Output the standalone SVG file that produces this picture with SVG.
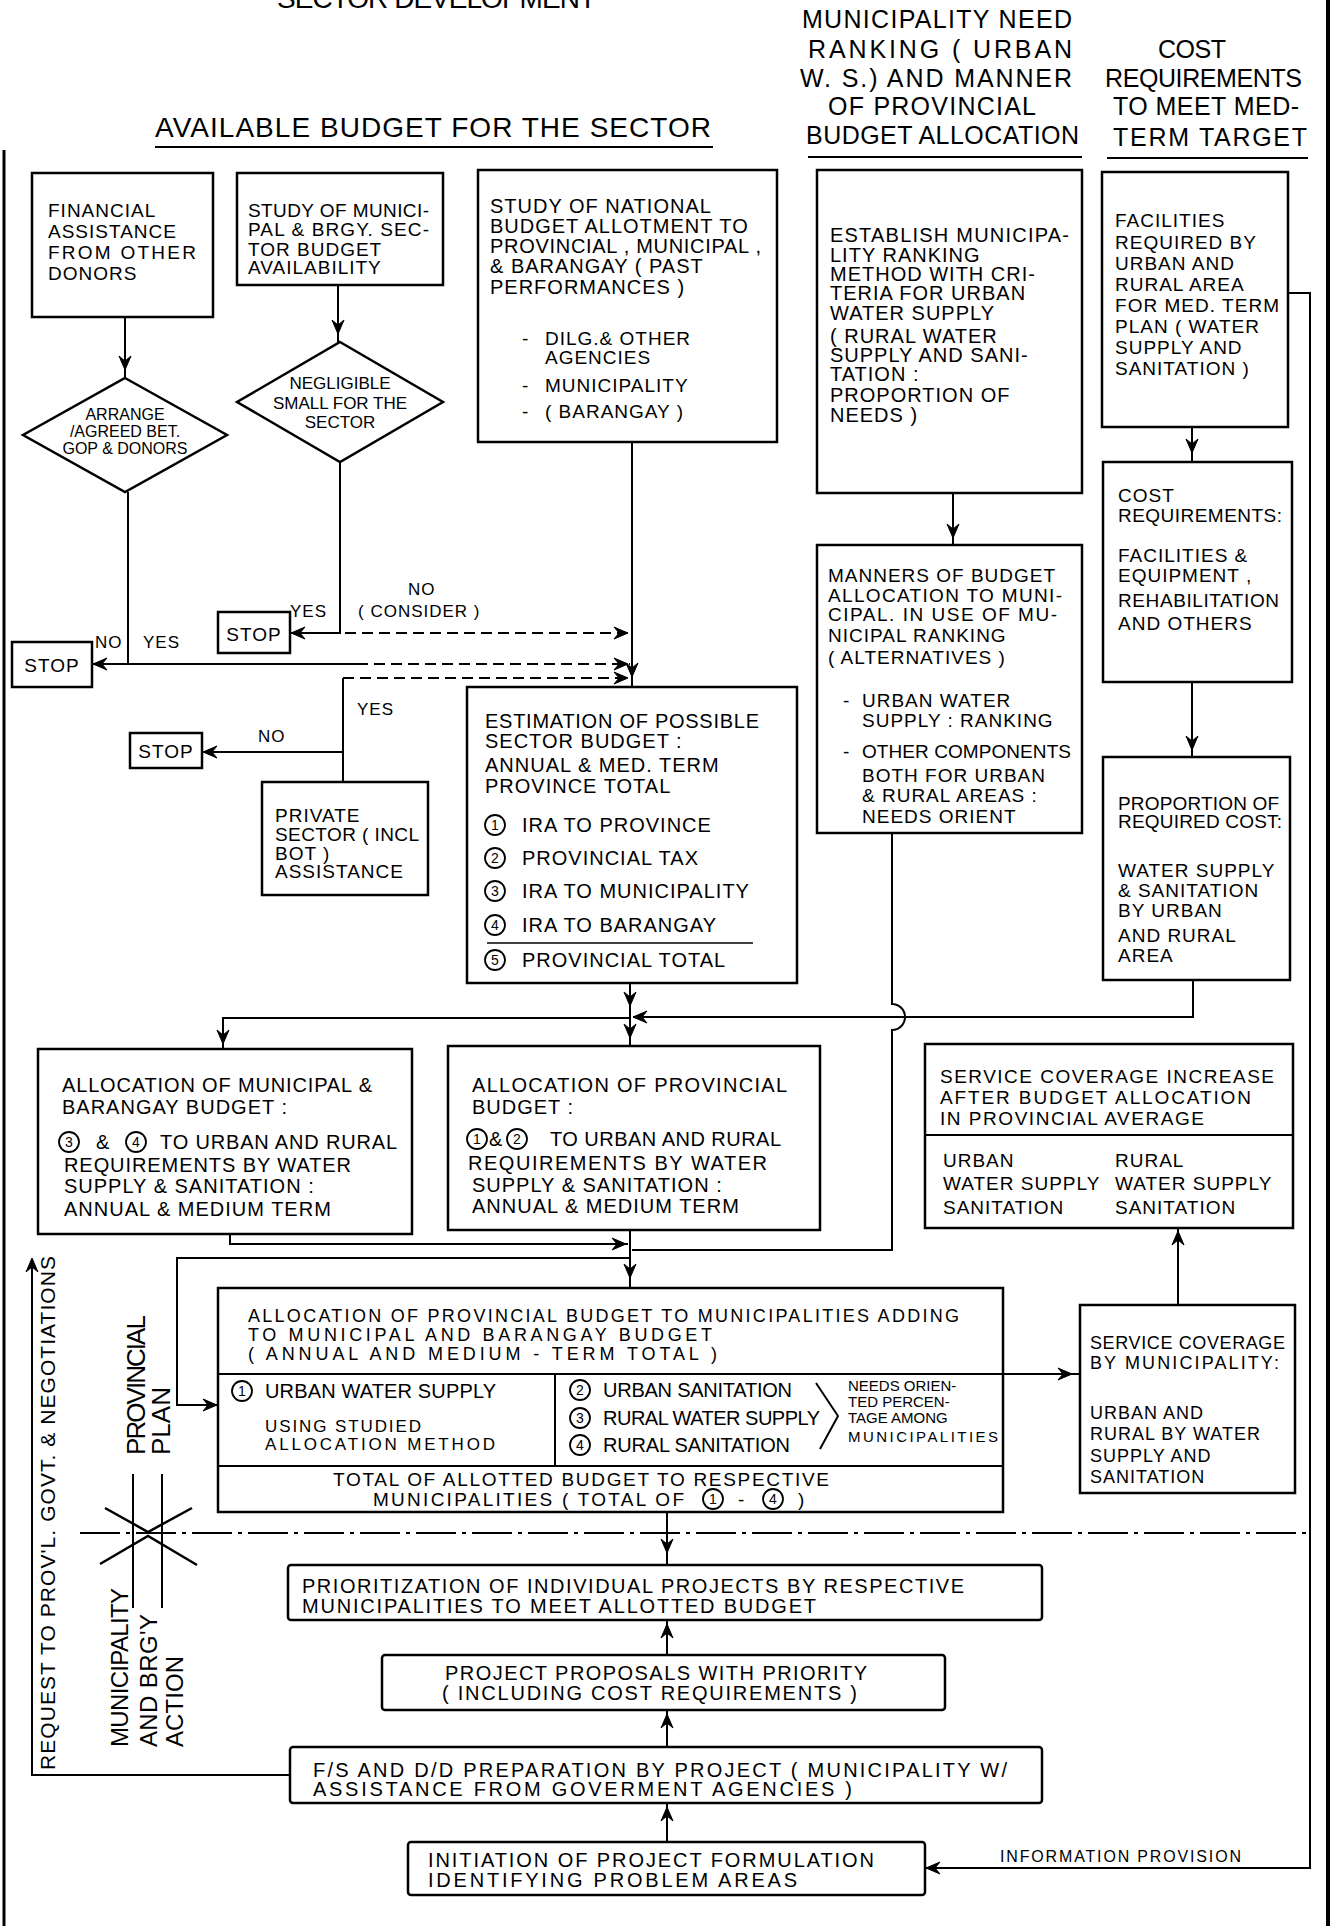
<svg xmlns="http://www.w3.org/2000/svg" xmlns:xlink="http://www.w3.org/1999/xlink" width="1332" height="1926" viewBox="0 0 1332 1926">
<style>
.b{fill:#fff;stroke:#000;stroke-width:2.5}
.t{font-family:"Liberation Sans",Arial,sans-serif;font-size:20px;fill:#000;letter-spacing:1px}
.s{font-size:19px}
.m{font-size:17px}
.h{font-size:25px}
.hh{font-size:28px}
.z{letter-spacing:0}
.dg{font-family:"Liberation Sans",Arial,sans-serif;font-size:14px;text-anchor:middle;letter-spacing:0;fill:#000}
.cn{fill:none;stroke:#000;stroke-width:1.8}
.c{fill:none;stroke:#000;stroke-width:2}
.d{stroke-dasharray:11 6}
.dd{stroke-dasharray:40 6 4 6}
</style>
<defs>
<path id="ah" d="M0 0 L-14 -6 L-9 0 L-14 6 Z" fill="#000" stroke="#000" stroke-width="1"/>
</defs>
<rect width="1332" height="1926" fill="#fff"/>
<g id="borders" class="c">
<path d="M4 150 V1926" style="stroke-width:3"/>
<path d="M1328 0 V1926" style="stroke-width:4"/>
</g>
<g id="headers" class="t">
<text class="hh" x="277" y="8" textLength="320">SECTOR  DEVELOPMENT</text>
<text class="hh" x="155" y="137" textLength="557">AVAILABLE  BUDGET  FOR  THE  SECTOR</text>
<path class="c" d="M155 147 H713"/>
<text class="h" x="802" y="28" textLength="271">MUNICIPALITY  NEED</text>
<text class="h" x="808" y="58" textLength="265">RANKING  ( URBAN</text>
<text class="h" x="800" y="87" textLength="273">W. S.) AND MANNER</text>
<text class="h" x="828" y="115" textLength="209">OF  PROVINCIAL</text>
<text class="h" x="806" y="144" textLength="274">BUDGET ALLOCATION</text>
<path class="c" d="M808 157 H1082"/>
<text class="h" x="1158" y="58" textLength="69">COST</text>
<text class="h" x="1105" y="87" textLength="198">REQUIREMENTS</text>
<text class="h" x="1113" y="115" textLength="187">TO MEET  MED-</text>
<text class="h" x="1113" y="146" textLength="195">TERM  TARGET</text>
<path class="c" d="M1107 158 H1308"/>
</g>
<g id="connectors">
<g class="c">
<path d="M125 317 V378"/>
<path d="M338 285 V342"/>
<path d="M632 442 V687"/>
<path d="M340 462 V633 H291"/>
<path class="d" d="M345 633 H630"/>
<path d="M128 492 V664 H93"/>
<path d="M128 664 H357"/>
<path class="d" d="M357 664 H630"/>
<path d="M343 782 V678"/>
<path class="d" d="M343 678 H630"/>
<path d="M343 752 H203"/>
<path d="M953 493 V545"/>
<path d="M1192 427 V462"/>
<path d="M1192 682 V757"/>
<path d="M630 983 V1046"/>
<path d="M630 1018 H223 V1049"/>
<path d="M1193 981 V1017 H633"/>
<path d="M892 833 V1004 A13 13 0 0 1 892 1030 V1250 H632"/>
<path d="M230 1234 V1244 H628"/>
<path d="M630 1230 V1288"/>
<path d="M630 1258 H177 V1405 H218"/>
<path d="M1003 1374 H1080"/>
<path d="M1178 1305 V1228"/>
<path d="M667 1512 V1565"/>
<path d="M667 1655 V1620"/>
<path d="M667 1747 V1710"/>
<path d="M667 1842 V1803"/>
<path d="M290 1775 H32 V1260"/>
<path d="M1288 293 H1310 V1868 H925"/>
<path class="dd" d="M80 1533 H1310"/>
<path d="M133 1474 V1608 M162 1474 V1608"/>
<path d="M105 1508 L148 1532 L192 1508 M100 1564 L148 1536 L197 1565" style="stroke-width:2.5"/>
</g>
<use xlink:href="#ah" transform="translate(125 370) rotate(90)"/>
<use xlink:href="#ah" transform="translate(338 334) rotate(90)"/>
<use xlink:href="#ah" transform="translate(632 677) rotate(90)"/>
<use xlink:href="#ah" transform="translate(291 633) rotate(180)"/>
<use xlink:href="#ah" transform="translate(628 633)"/>
<use xlink:href="#ah" transform="translate(93 664) rotate(180)"/>
<use xlink:href="#ah" transform="translate(628 664)"/>
<use xlink:href="#ah" transform="translate(628 678)"/>
<use xlink:href="#ah" transform="translate(203 752) rotate(180)"/>
<use xlink:href="#ah" transform="translate(953 538) rotate(90)"/>
<use xlink:href="#ah" transform="translate(1192 453) rotate(90)"/>
<use xlink:href="#ah" transform="translate(1192 750) rotate(90)"/>
<use xlink:href="#ah" transform="translate(630 1006) rotate(90)"/>
<use xlink:href="#ah" transform="translate(630 1038) rotate(90)"/>
<use xlink:href="#ah" transform="translate(633 1017) rotate(180)"/>
<use xlink:href="#ah" transform="translate(223 1044) rotate(90)"/>
<use xlink:href="#ah" transform="translate(626 1244)"/>
<use xlink:href="#ah" transform="translate(630 1278) rotate(90)"/>
<use xlink:href="#ah" transform="translate(217 1405)"/>
<use xlink:href="#ah" transform="translate(1072 1374)"/>
<use xlink:href="#ah" transform="translate(1178 1231) rotate(-90)"/>
<use xlink:href="#ah" transform="translate(667 1553) rotate(90)"/>
<use xlink:href="#ah" transform="translate(667 1624) rotate(-90)"/>
<use xlink:href="#ah" transform="translate(667 1714) rotate(-90)"/>
<use xlink:href="#ah" transform="translate(667 1807) rotate(-90)"/>
<use xlink:href="#ah" transform="translate(32 1258) rotate(-90)"/>
<use xlink:href="#ah" transform="translate(926 1868) rotate(180)"/>
</g>
<g id="labels" class="t m">
<text x="290" y="617">YES</text>
<text x="408" y="595">NO</text>
<text x="358" y="617">( CONSIDER )</text>
<text x="95" y="648">NO</text>
<text x="143" y="648">YES</text>
<text x="357" y="715">YES</text>
<text x="258" y="742">NO</text>
<text x="1000" y="1862" style="font-size:16px" textLength="242">INFORMATION PROVISION</text>
<text transform="translate(55 1770) rotate(-90)" style="font-size:21px" textLength="515">REQUEST TO PROV'L. GOVT. &amp; NEGOTIATIONS</text>
<text transform="translate(145 1455) rotate(-90)" style="font-size:26px" textLength="141">PROVINCIAL</text>
<text transform="translate(170 1455) rotate(-90)" style="font-size:26px" textLength="69">PLAN</text>
<text transform="translate(128 1747) rotate(-90)" style="font-size:24px" textLength="160">MUNICIPALITY</text>
<text transform="translate(157 1747) rotate(-90)" style="font-size:24px" textLength="134">AND BRG'Y</text>
<text transform="translate(183 1747) rotate(-90)" style="font-size:24px" textLength="92">ACTION</text>
</g>
<g id="n-financial" class="t s">
<rect class="b" x="32" y="173" width="181" height="144"/>
<text x="48" y="217">FINANCIAL</text>
<text x="48" y="238">ASSISTANCE</text>
<text x="48" y="259" textLength="149">FROM  OTHER</text>
<text x="48" y="280">DONORS</text>
</g>
<g id="n-study-muni" class="t s">
<rect class="b" x="237" y="173" width="206" height="112"/>
<text x="248" y="217" textLength="182">STUDY OF MUNICI-</text>
<text x="248" y="236" textLength="182">PAL &amp; BRGY. SEC-</text>
<text x="248" y="256">TOR  BUDGET</text>
<text x="248" y="274">AVAILABILITY</text>
</g>
<g id="n-arrange" class="t z" style="font-size:16px">
<polygon class="b" points="125,378 227,435 125,492 23,435"/>
<text x="125" y="420" text-anchor="middle">ARRANGE</text>
<text x="125" y="437" text-anchor="middle">/AGREED BET.</text>
<text x="125" y="454" text-anchor="middle">GOP &amp; DONORS</text>
</g>
<g id="n-negligible" class="t m z">
<polygon class="b" points="340,342 443,402 340,462 237,402"/>
<text x="340" y="389" text-anchor="middle">NEGLIGIBLE</text>
<text x="340" y="409" text-anchor="middle">SMALL FOR THE</text>
<text x="340" y="428" text-anchor="middle">SECTOR</text>
</g>
<g id="n-stop1" class="t s">
<rect class="b" x="12" y="642" width="80" height="45"/>
<text x="52" y="672" text-anchor="middle">STOP</text>
</g>
<g id="n-stop2" class="t s">
<rect class="b" x="218" y="612" width="72" height="41"/>
<text x="254" y="641" text-anchor="middle">STOP</text>
</g>
<g id="n-stop3" class="t s">
<rect class="b" x="130" y="733" width="72" height="35"/>
<text x="166" y="758" text-anchor="middle">STOP</text>
</g>
<g id="n-private" class="t s">
<rect class="b" x="262" y="782" width="166" height="113"/>
<text x="275" y="822">PRIVATE</text>
<text x="275" y="841" textLength="145">SECTOR ( INCL</text>
<text x="275" y="860">BOT  )</text>
<text x="275" y="878">ASSISTANCE</text>
</g>
<g id="n-study-national" class="t">
<rect class="b" x="478" y="170" width="299" height="272"/>
<text x="490" y="213">STUDY OF NATIONAL</text>
<text x="490" y="233">BUDGET ALLOTMENT  TO</text>
<text x="490" y="253" textLength="272">PROVINCIAL , MUNICIPAL ,</text>
<text x="490" y="273">&amp; BARANGAY (  PAST</text>
<text x="490" y="294">PERFORMANCES  )</text>
<text class="s" x="522" y="345">-</text><text class="s" x="545" y="345">DILG.&amp; OTHER</text>
<text class="s" x="545" y="364">AGENCIES</text>
<text class="s" x="522" y="392">-</text><text class="s" x="545" y="392">MUNICIPALITY</text>
<text class="s" x="522" y="418">-</text><text class="s" x="545" y="418">( BARANGAY )</text>
</g>
<g id="n-establish" class="t">
<rect class="b" x="817" y="170" width="265" height="323"/>
<text x="830" y="242" textLength="240">ESTABLISH  MUNICIPA-</text>
<text x="830" y="262">LITY  RANKING</text>
<text x="830" y="281">METHOD WITH  CRI-</text>
<text x="830" y="300">TERIA FOR URBAN</text>
<text x="830" y="320">WATER  SUPPLY</text>
<text x="830" y="343">( RURAL WATER</text>
<text x="830" y="362">SUPPLY AND  SANI-</text>
<text x="830" y="381">TATION :</text>
<text x="830" y="402">PROPORTION  OF</text>
<text x="830" y="422">NEEDS  )</text>
</g>
<g id="n-manners" class="t s">
<rect class="b" x="817" y="545" width="265" height="288"/>
<text x="828" y="582">MANNERS OF BUDGET</text>
<text x="828" y="602" textLength="235">ALLOCATION TO MUNI-</text>
<text x="828" y="621" textLength="230">CIPAL. IN USE OF MU-</text>
<text x="828" y="642">NICIPAL RANKING</text>
<text x="828" y="664">( ALTERNATIVES )</text>
<text x="843" y="707">-</text><text x="862" y="707">URBAN WATER</text>
<text x="862" y="727">SUPPLY : RANKING</text>
<text x="843" y="758">-</text><text x="862" y="758" textLength="210">OTHER COMPONENTS</text>
<text x="862" y="782">BOTH FOR URBAN</text>
<text x="862" y="802">&amp; RURAL AREAS :</text>
<text x="862" y="823">NEEDS ORIENT</text>
</g>
<g id="n-facilities" class="t s">
<rect class="b" x="1102" y="172" width="186" height="255"/>
<text x="1115" y="227">FACILITIES</text>
<text x="1115" y="249">REQUIRED BY</text>
<text x="1115" y="270">URBAN  AND</text>
<text x="1115" y="291">RURAL  AREA</text>
<text x="1115" y="312" textLength="165">FOR MED. TERM</text>
<text x="1115" y="333">PLAN ( WATER</text>
<text x="1115" y="354">SUPPLY AND</text>
<text x="1115" y="375">SANITATION )</text>
</g>
<g id="n-cost" class="t s">
<rect class="b" x="1103" y="462" width="189" height="220"/>
<text x="1118" y="502">COST</text>
<text x="1118" y="522" textLength="165">REQUIREMENTS:</text>
<text x="1118" y="562">FACILITIES  &amp;</text>
<text x="1118" y="582">EQUIPMENT ,</text>
<text x="1118" y="607" textLength="162">REHABILITATION</text>
<text x="1118" y="630">AND OTHERS</text>
</g>
<g id="n-proportion" class="t s">
<rect class="b" x="1103" y="757" width="187" height="223"/>
<text x="1118" y="810" textLength="162">PROPORTION OF</text>
<text x="1118" y="828" textLength="165">REQUIRED COST:</text>
<text x="1118" y="877">WATER SUPPLY</text>
<text x="1118" y="897">&amp; SANITATION</text>
<text x="1118" y="917">BY  URBAN</text>
<text x="1118" y="942">AND RURAL</text>
<text x="1118" y="962">AREA</text>
</g>
<g id="n-estimation" class="t">
<rect class="b" x="467" y="687" width="330" height="296"/>
<text x="485" y="728" textLength="275">ESTIMATION OF POSSIBLE</text>
<text x="485" y="748">SECTOR  BUDGET :</text>
<text x="485" y="772">ANNUAL &amp; MED. TERM</text>
<text x="485" y="793">PROVINCE  TOTAL</text>
<circle class="cn" cx="495" cy="825" r="10"/><text class="dg" x="495" y="830">1</text><text x="522" y="832">IRA  TO  PROVINCE</text>
<circle class="cn" cx="495" cy="858" r="10"/><text class="dg" x="495" y="863">2</text><text x="522" y="865">PROVINCIAL   TAX</text>
<circle class="cn" cx="495" cy="891" r="10"/><text class="dg" x="495" y="896">3</text><text x="522" y="898">IRA  TO  MUNICIPALITY</text>
<circle class="cn" cx="495" cy="925" r="10"/><text class="dg" x="495" y="930">4</text><text x="522" y="932">IRA  TO  BARANGAY</text>
<path class="c" d="M487 943 H753" style="stroke-width:1.5"/>
<circle class="cn" cx="495" cy="960" r="10"/><text class="dg" x="495" y="965">5</text><text x="522" y="967">PROVINCIAL   TOTAL</text>
</g>
<g id="n-alloc-municipal" class="t">
<rect class="b" x="38" y="1049" width="374" height="185"/>
<text x="62" y="1092" textLength="311">ALLOCATION OF MUNICIPAL &amp;</text>
<text x="62" y="1114">BARANGAY   BUDGET   :</text>
<circle class="cn" cx="69" cy="1142" r="10"/><text class="dg" x="69" y="1147">3</text>
<text x="96" y="1149">&amp;</text>
<circle class="cn" cx="136" cy="1142" r="10"/><text class="dg" x="136" y="1147">4</text>
<text x="160" y="1149" textLength="238">TO URBAN  AND RURAL</text>
<text x="64" y="1172" textLength="288">REQUIREMENTS  BY  WATER</text>
<text x="64" y="1193">SUPPLY &amp; SANITATION :</text>
<text x="64" y="1216">ANNUAL &amp;  MEDIUM  TERM</text>
</g>
<g id="n-alloc-provincial" class="t">
<rect class="b" x="448" y="1046" width="372" height="184"/>
<text x="472" y="1092" textLength="316">ALLOCATION   OF  PROVINCIAL</text>
<text x="472" y="1114">BUDGET   :</text>
<circle class="cn" cx="477" cy="1139" r="10"/><text class="dg" x="477" y="1144">1</text>
<text x="489" y="1146" class="z">&amp;</text>
<circle class="cn" cx="517" cy="1139" r="10"/><text class="dg" x="517" y="1144">2</text>
<text x="550" y="1146" textLength="232">TO URBAN AND RURAL</text>
<text x="468" y="1170" textLength="300">REQUIREMENTS   BY   WATER</text>
<text x="472" y="1192">SUPPLY  &amp;  SANITATION  :</text>
<text x="472" y="1213">ANNUAL  &amp;  MEDIUM  TERM</text>
</g>
<g id="n-coverage-increase" class="t s">
<rect class="b" x="925" y="1044" width="368" height="184"/>
<path class="c" d="M925 1135 H1293"/>
<text x="940" y="1083" textLength="335">SERVICE   COVERAGE INCREASE</text>
<text x="940" y="1104" textLength="312">AFTER BUDGET  ALLOCATION</text>
<text x="940" y="1125" textLength="265">IN  PROVINCIAL  AVERAGE</text>
<text x="943" y="1167">URBAN</text>
<text x="943" y="1190">WATER SUPPLY</text>
<text x="943" y="1214">SANITATION</text>
<text x="1115" y="1167">RURAL</text>
<text x="1115" y="1190">WATER  SUPPLY</text>
<text x="1115" y="1214">SANITATION</text>
</g>
<g id="n-coverage-municipality" class="t" style="font-size:18px">
<rect class="b" x="1080" y="1305" width="215" height="188"/>
<text x="1090" y="1349" textLength="196">SERVICE  COVERAGE</text>
<text x="1090" y="1369" textLength="190">BY  MUNICIPALITY:</text>
<text x="1090" y="1419">URBAN  AND</text>
<text x="1090" y="1440">RURAL BY WATER</text>
<text x="1090" y="1462">SUPPLY  AND</text>
<text x="1090" y="1483">SANITATION</text>
</g>
<g id="n-alloc-municipalities" class="t">
<rect class="b" x="218" y="1288" width="785" height="224"/>
<path class="c" d="M218 1374 H1003 M218 1466 H1003 M555 1374 V1466"/>
<text x="248" y="1322" style="font-size:18px" textLength="712">ALLOCATION OF PROVINCIAL BUDGET TO MUNICIPALITIES ADDING</text>
<text x="248" y="1341" style="font-size:18px" textLength="465">TO  MUNICIPAL  AND  BARANGAY  BUDGET</text>
<text x="248" y="1360" style="font-size:18px" textLength="470">( ANNUAL  AND  MEDIUM - TERM  TOTAL  )</text>
<circle class="cn" cx="242" cy="1391" r="10"/><text class="dg" x="242" y="1396">1</text>
<text x="265" y="1398" textLength="232">URBAN WATER SUPPLY</text>
<text x="265" y="1432" style="font-size:17px" textLength="157">USING  STUDIED</text>
<text x="265" y="1450" style="font-size:17px" textLength="231">ALLOCATION  METHOD</text>
<circle class="cn" cx="580" cy="1390" r="10"/><text class="dg" x="580" y="1395">2</text>
<text x="603" y="1397" textLength="190">URBAN  SANITATION</text>
<circle class="cn" cx="580" cy="1418" r="10"/><text class="dg" x="580" y="1423">3</text>
<text x="603" y="1425" textLength="218">RURAL WATER SUPPLY</text>
<circle class="cn" cx="580" cy="1445" r="10"/><text class="dg" x="580" y="1450">4</text>
<text x="603" y="1452" textLength="188">RURAL  SANITATION</text>
<path class="c" d="M816 1383 L838 1416 L820 1449"/>
<text x="848" y="1391" style="font-size:15px;letter-spacing:0">NEEDS ORIEN-</text>
<text x="848" y="1407" style="font-size:15px;letter-spacing:0">TED PERCEN-</text>
<text x="848" y="1423" style="font-size:15px;letter-spacing:0">TAGE AMONG</text>
<text x="848" y="1442" style="font-size:15px;letter-spacing:0" textLength="150">MUNICIPALITIES</text>
<text x="333" y="1486" style="font-size:19px" textLength="497">TOTAL  OF  ALLOTTED  BUDGET  TO  RESPECTIVE</text>
<text x="373" y="1506" style="font-size:19px" textLength="312">MUNICIPALITIES  ( TOTAL  OF</text>
<circle class="cn" cx="713" cy="1499" r="10"/><text class="dg" x="713" y="1504">1</text>
<text x="738" y="1506" style="font-size:19px">-</text>
<circle class="cn" cx="773" cy="1499" r="10"/><text class="dg" x="773" y="1504">4</text>
<text x="798" y="1506" style="font-size:19px">)</text>
</g>
<g id="n-prioritization" class="t">
<rect class="b" x="288" y="1565" width="754" height="55" rx="3"/>
<text x="302" y="1593" textLength="663">PRIORITIZATION  OF  INDIVIDUAL  PROJECTS  BY  RESPECTIVE</text>
<text x="302" y="1613" textLength="515">MUNICIPALITIES  TO  MEET  ALLOTTED  BUDGET</text>
</g>
<g id="n-proposals" class="t">
<rect class="b" x="382" y="1655" width="563" height="55" rx="3"/>
<text x="445" y="1680" textLength="423">PROJECT  PROPOSALS  WITH  PRIORITY</text>
<text x="442" y="1700" textLength="416">( INCLUDING  COST  REQUIREMENTS  )</text>
</g>
<g id="n-fs" class="t">
<rect class="b" x="290" y="1747" width="752" height="56" rx="3"/>
<text x="313" y="1777" textLength="695">F/S  AND  D/D  PREPARATION  BY  PROJECT  ( MUNICIPALITY  W/</text>
<text x="313" y="1796" textLength="540">ASSISTANCE  FROM  GOVERMENT  AGENCIES  )</text>
</g>
<g id="n-initiation" class="t">
<rect class="b" x="408" y="1842" width="517" height="53" rx="3"/>
<text x="428" y="1867" textLength="447">INITIATION  OF  PROJECT  FORMULATION</text>
<text x="428" y="1887" textLength="370">IDENTIFYING  PROBLEM  AREAS</text>
</g>
</svg>
